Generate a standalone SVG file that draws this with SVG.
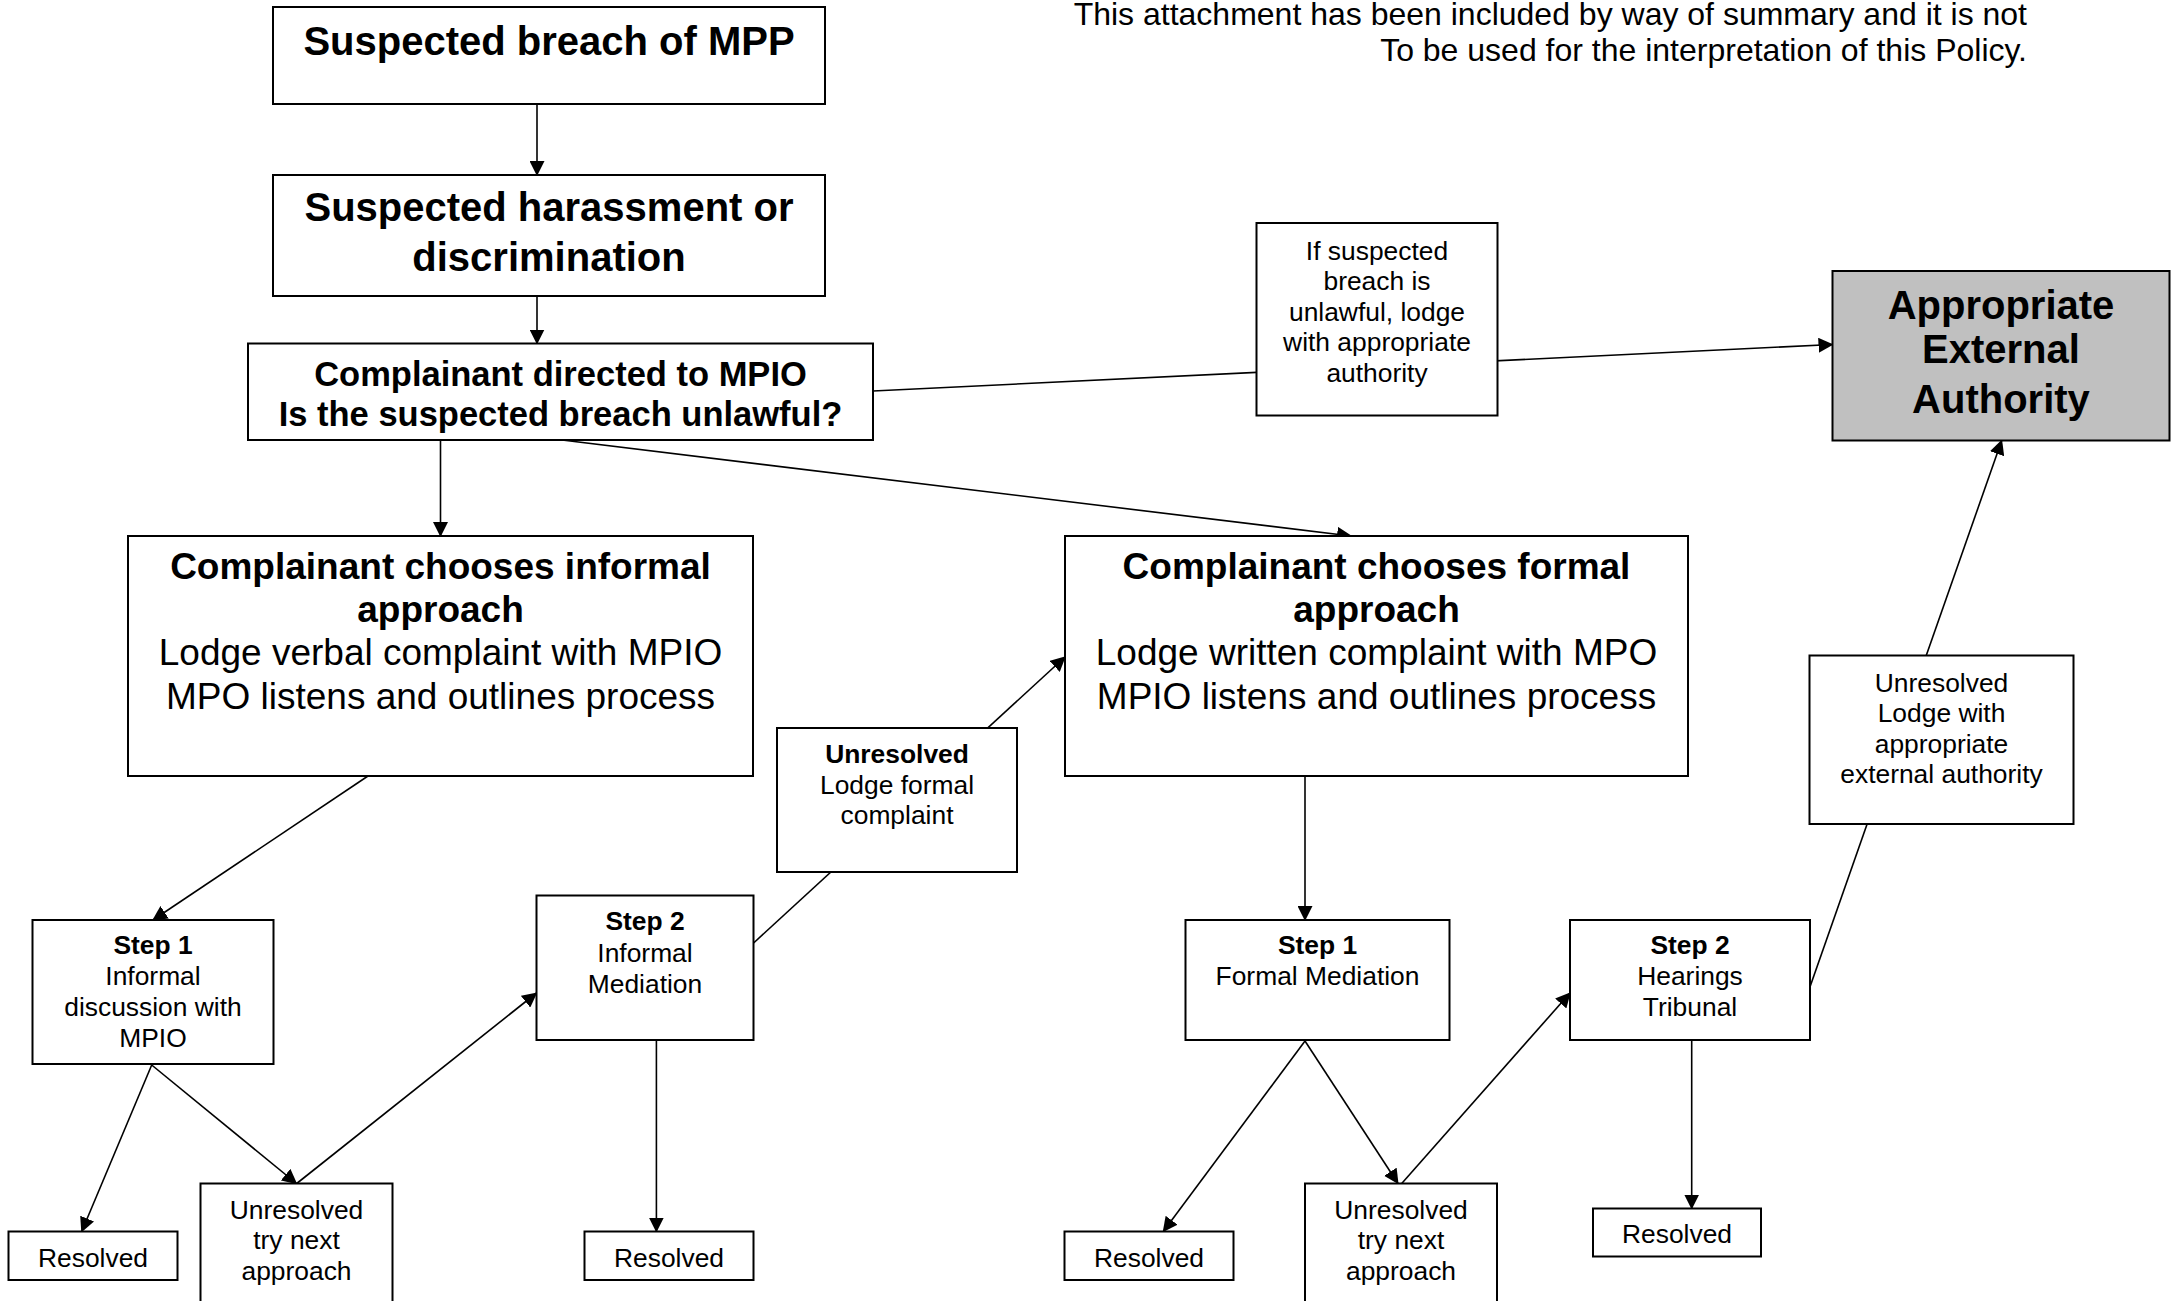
<svg xmlns="http://www.w3.org/2000/svg" width="2172" height="1301" viewBox="0 0 2172 1301">
<defs>
<marker id="arr" markerUnits="userSpaceOnUse" markerWidth="15" markerHeight="15" refX="14" refY="7.5" orient="auto" viewBox="0 0 15 15"><path d="M0,0 L15,7.5 L0,15 z" fill="#000"/></marker>
</defs>
<style>
text{font-family:"Liberation Sans",Arial,sans-serif;fill:#000;text-anchor:middle}
.box{fill:#fff;stroke:#000;stroke-width:2}
.grey{fill:#c0c0c0;stroke:#000;stroke-width:2}
.c{stroke:#000;stroke-width:1.6;fill:none;marker-end:url(#arr)}
.h40{font-size:40px;font-weight:bold}
.h35{font-size:34.5px;font-weight:bold}
.h37{font-size:37px;font-weight:bold}
.b37{font-size:37px}
.s{font-size:26.4px}
.sb{font-size:26.4px;font-weight:bold}
.note{font-size:32px;text-anchor:end}
</style>
<rect width="2172" height="1301" fill="#fff"/>

<g id="note">
<text class="note" x="2027" y="25">This attachment has been included by way of summary and it is not</text>
<text class="note" x="2027" y="61">To be used for the interpretation of this Policy.</text>
</g>

<g id="connectors">
<line class="c" x1="537" y1="104" x2="537" y2="175"/>
<line class="c" x1="537" y1="296" x2="537" y2="343.5"/>
<line class="c" x1="440.5" y1="440" x2="440.5" y2="536"/>
<line class="c" x1="562" y1="440" x2="1351" y2="536"/>
<line class="c" x1="873" y1="391" x2="1832.5" y2="344.5"/>
<line class="c" x1="368" y1="776" x2="153" y2="920"/>
<line class="c" x1="151.7" y1="1065" x2="81.7" y2="1231.5"/>
<line class="c" x1="151.7" y1="1065" x2="296.5" y2="1183.5"/>
<line class="c" x1="296.7" y1="1183.5" x2="536.5" y2="993"/>
<line class="c" x1="753.6" y1="943" x2="1065" y2="657"/>
<line class="c" x1="656.4" y1="1040" x2="656.4" y2="1231.5"/>
<line class="c" x1="1305" y1="776" x2="1305" y2="920"/>
<line class="c" x1="1305" y1="1041" x2="1163.3" y2="1231.5"/>
<line class="c" x1="1305" y1="1041" x2="1398" y2="1183.5"/>
<line class="c" x1="1401.7" y1="1183.5" x2="1570" y2="993"/>
<line class="c" x1="1691.7" y1="1040" x2="1691.7" y2="1208.5"/>
<line class="c" x1="1809.5" y1="988.2" x2="2001.7" y2="440.5"/>
</g>

<g id="n-breach">
<rect class="box" x="273" y="7" width="552" height="97"/>
<text class="h40" x="549" y="55">Suspected breach of MPP</text>
</g>
<g id="n-harassment">
<rect class="box" x="273" y="175" width="552" height="121"/>
<text class="h40" x="549" y="221">Suspected harassment or</text>
<text class="h40" x="549" y="271">discrimination</text>
</g>
<g id="n-directed">
<rect class="box" x="248" y="343.5" width="625" height="96.5"/>
<text class="h35" x="560.5" y="386">Complainant directed to MPIO</text>
<text class="h35" x="560.5" y="426">Is the suspected breach unlawful?</text>
</g>
<g id="n-informal">
<rect class="box" x="128" y="536" width="625" height="240"/>
<text class="h37" x="440.5" y="579">Complainant chooses informal</text>
<text class="h37" x="440.5" y="622">approach</text>
<text class="b37" x="440.5" y="665">Lodge verbal complaint with MPIO</text>
<text class="b37" x="440.5" y="709">MPO listens and outlines process</text>
</g>
<g id="n-formal">
<rect class="box" x="1065" y="536" width="623" height="240"/>
<text class="h37" x="1376.5" y="579">Complainant chooses formal</text>
<text class="h37" x="1376.5" y="622">approach</text>
<text class="b37" x="1376.5" y="665">Lodge written complaint with MPO</text>
<text class="b37" x="1376.5" y="709">MPIO listens and outlines process</text>
</g>
<g id="n-unlawful">
<rect class="box" x="1256.5" y="223" width="241" height="192.5"/>
<text class="s" x="1377" y="259.5">If suspected</text>
<text class="s" x="1377" y="290">breach is</text>
<text class="s" x="1377" y="320.5">unlawful, lodge</text>
<text class="s" x="1377" y="351">with appropriate</text>
<text class="s" x="1377" y="381.5">authority</text>
</g>
<g id="n-external">
<rect class="grey" x="1832.5" y="271" width="337" height="169.5"/>
<text class="h40" x="2001" y="318.5">Appropriate</text>
<text class="h40" x="2001" y="363">External</text>
<text class="h40" x="2001" y="413">Authority</text>
</g>
<g id="n-istep1">
<rect class="box" x="32.5" y="920" width="241" height="144"/>
<text class="sb" x="153" y="954">Step 1</text>
<text class="s" x="153" y="985">Informal</text>
<text class="s" x="153" y="1015.5">discussion with</text>
<text class="s" x="153" y="1046.5">MPIO</text>
</g>
<g id="n-iresolved1">
<rect class="box" x="8.5" y="1231.5" width="169" height="48.5"/>
<text class="s" x="93" y="1266.5">Resolved</text>
</g>
<g id="n-inext">
<rect class="box" x="200.5" y="1183.5" width="192" height="130"/>
<text class="s" x="296.5" y="1218.5">Unresolved</text>
<text class="s" x="296.5" y="1249">try next</text>
<text class="s" x="296.5" y="1279.5">approach</text>
</g>
<g id="n-istep2">
<rect class="box" x="536.5" y="895.5" width="217" height="144.5"/>
<text class="sb" x="645" y="929.5">Step 2</text>
<text class="s" x="645" y="961.5">Informal</text>
<text class="s" x="645" y="993">Mediation</text>
</g>
<g id="n-lodgeformal">
<rect class="box" x="777" y="728" width="240" height="144"/>
<text class="sb" x="897" y="762.5">Unresolved</text>
<text class="s" x="897" y="793.5">Lodge formal</text>
<text class="s" x="897" y="823.5">complaint</text>
</g>
<g id="n-iresolved2">
<rect class="box" x="584.5" y="1231.5" width="169" height="48.5"/>
<text class="s" x="669" y="1266.5">Resolved</text>
</g>
<g id="n-fstep1">
<rect class="box" x="1185.5" y="920" width="264" height="120"/>
<text class="sb" x="1317.5" y="954">Step 1</text>
<text class="s" x="1317.5" y="985">Formal Mediation</text>
</g>
<g id="n-fresolved1">
<rect class="box" x="1064.5" y="1231.5" width="169" height="48.5"/>
<text class="s" x="1149" y="1266.5">Resolved</text>
</g>
<g id="n-fnext">
<rect class="box" x="1305" y="1183.5" width="192" height="130"/>
<text class="s" x="1401" y="1218.5">Unresolved</text>
<text class="s" x="1401" y="1249">try next</text>
<text class="s" x="1401" y="1279.5">approach</text>
</g>
<g id="n-fstep2">
<rect class="box" x="1570" y="920" width="240" height="120"/>
<text class="sb" x="1690" y="954">Step 2</text>
<text class="s" x="1690" y="985">Hearings</text>
<text class="s" x="1690" y="1015.5">Tribunal</text>
</g>
<g id="n-fresolved2">
<rect class="box" x="1593" y="1208.5" width="168" height="48"/>
<text class="s" x="1677" y="1243">Resolved</text>
</g>
<g id="n-lodgeexternal">
<rect class="box" x="1809.5" y="655.5" width="264" height="168.5"/>
<text class="s" x="1941.5" y="691.5">Unresolved</text>
<text class="s" x="1941.5" y="722">Lodge with</text>
<text class="s" x="1941.5" y="752.5">appropriate</text>
<text class="s" x="1941.5" y="783">external authority</text>
</g>
</svg>
